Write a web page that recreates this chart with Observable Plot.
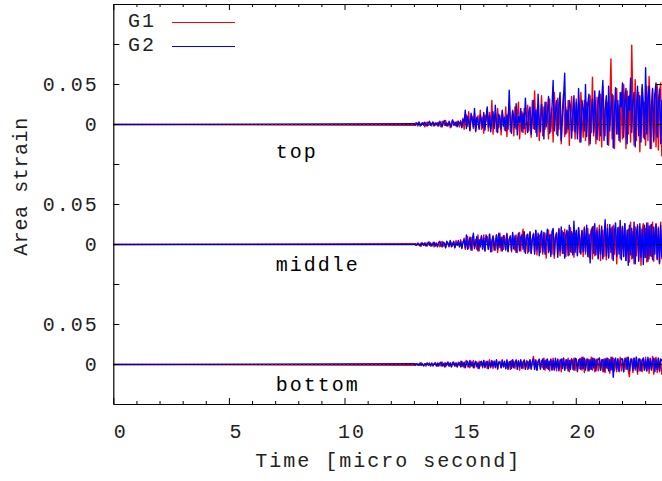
<!DOCTYPE html>
<html>
<head>
<meta charset="utf-8">
<script src="https://cdn.jsdelivr.net/npm/d3@7"></script>
<script src="https://cdn.jsdelivr.net/npm/@observablehq/plot@0.6"></script>
<style>
  html, body { margin: 0; padding: 0; background: #fff; }
  #wrap { position: relative; width: 662px; height: 481px; overflow: hidden; }
  #legend { position: absolute; left: 0; top: 0; font-family: "Liberation Mono", monospace; font-size: 20px; letter-spacing: 2px; color: #222; }
  .row { position: absolute; white-space: nowrap; }
  .swatch { position: absolute; height: 1px; }
</style>
</head>
<body>
<div id="wrap"><div id="legend"></div></div>
<script>
// ---- data: strain values in units of 1e-3, one inner list per micro second ----
const seriesNames = ["G1", "G2"];
const seriesColors = ["#ff0000", "#0000ff"];
const traceNames = ["top", "middle", "bottom"];
const traceOffsets = [0.3, 0.15, 0];
const traceLabelX = [7, 7, 7];
const traceLabelY = [0.266, 0.125, -0.025];
const t0 = 13.0;     // first sampled time (micro second); signal is flat (0) before
const dt = 0.05;     // sampling step inside each micro-second block

const topG1 = [
  [-1,2,1,-2,3,0,-1,2,2,-3,1,3,-1,0,2,-2,3,1,-1,2],
  [-2,3,1,-3,4,2,-1,5,-2,1,3,-4,2,6,-1,3,-2,4,0,-3],
  [5,-3,8,-6,4,12,-2,16,-8,6,10,-5,14,-9,3,11,-4,18,-6,9],
  [-11,12,4,20,-8,15,-6,30,-12,8,14,-9,20,-4,11,-13,16,5,-7,22],
  [-15,10,26,-9,5,18,-14,22,-6,12,28,-18,8,16,-10,20,-12,6,24,-8],
  [14,-16,30,-5,42,-10,18,25,-20,8,36,-14,22,-6,28,12,-18,32,-9,20],
  [-22,40,15,-12,33,-6,26,-24,18,38,-15,22,-10,30,-26,14,35,-8,24,-18],
  [32,-12,26,-22,40,10,-16,30,-20,28,18,-26,36,-10,59,-14,22,-24,34,12],
  [-20,38,-28,48,16,-14,30,26,-26,20,82,-18,36,-30,28,45,-12,24,-22,40],
  [-18,50,24,-30,42,-12,36,-22,99,18,-26,56,-20,30,40,-34,22,46,-16,28],
  [-26,48,-20,60,24,-30,44,-22,38,-28,50,-32,36,52,-39]];
const topG2 = [
  [1,-1,2,0,3,-2,1,2,-1,3,0,-2,2,4,-1,1,3,-2,2,0],
  [2,-2,4,1,-3,3,5,-1,2,-2,4,0,-3,5,2,-1,3,-3,4,1],
  [3,-4,6,2,18,-5,10,4,-7,14,6,-3,20,-8,9,3,-6,12,5,-4],
  [15,-7,8,22,-3,11,-9,6,16,-5,24,2,-10,13,7,-6,18,-2,9,-8],
  [12,-6,43,5,-11,17,8,-4,26,-13,10,3,20,-9,14,-5,33,6,-10,16],
  [22,-12,9,30,-6,18,-15,38,4,-9,25,12,-18,28,-3,15,35,-11,8,21],
  [55,-8,17,30,-14,24,40,-20,10,33,64,-12,18,-6,30,22,-17,14,36,-9],
  [28,-18,45,12,-22,30,20,-8,50,-15,26,38,-24,16,32,-10,42,8,-19,27],
  [42,-14,30,55,-20,18,36,-25,48,-8,24,38,-29,15,46,-12,30,-20,40,22],
  [52,-16,28,45,-24,35,18,58,-10,30,40,-28,22,48,-14,36,-22,50,26,-18],
  [71,-12,34,48,-30,22,45,-20,38,52,-16,28,44,-24,30]];
const middleG1 = [
  [1,-1,0,2,-1,1,-2,2,0,-1,2,-2,1,3,-2,0,2,-3,1,2],
  [-2,3,-3,1,4,-2,2,-4,3,0,-3,4,2,-2,3,-4,5,-1,2,-3],
  [6,-4,3,8,-6,2,10,-5,4,9,-7,11,-3,6,-6,12,-8,4,10,-5],
  [12,-8,5,10,-6,13,-3,-9,11,4,-7,12,-10,6,14,-8,9,-6,11,-5],
  [14,-8,7,11,-9,13,-5,-7,12,-10,6,15,-8,10,19,-9,4,12,-11,8],
  [15,-11,6,14,-9,17,-13,8,12,-10,16,-12,5,14,-17,10,18,-8,13,-12],
  [18,-17,9,15,-12,20,-14,6,17,-11,19,-15,10,16,-13,21,-10,14,-16,12],
  [16,-13,21,-10,8,18,-15,22,-12,14,20,-16,10,19,-18,23,-14,12,21,-17],
  [24,-20,9,18,-15,22,-19,25,-16,13,20,-18,24,-12,21,-24,17,22,-17,14],
  [23,-15,26,-20,12,19,-22,28,-18,16,-24,22,-14,25,-19,21,-26,18,26,-16],
  [20,-22,27,-18,24,-15,28,-21,16,25,-19,22,-24,28,-18]];
const middleG2 = [
  [0,1,-1,1,0,-2,2,1,-1,2,-2,0,3,-1,2,-2,1,3,-2,1],
  [-3,2,4,-1,-3,3,1,-4,4,2,-2,5,-3,1,4,-4,2,-1,5,-3],
  [4,-5,2,6,-4,12,-6,3,9,-7,5,14,-5,2,10,-8,6,-3,11,-6],
  [8,-8,12,3,-6,13,-9,5,10,-7,2,12,-6,14,-4,9,-8,11,3,-7],
  [13,-9,6,10,-7,15,-5,11,-10,4,14,-8,9,12,-6,16,-11,7,13,-9],
  [16,-11,8,13,-12,18,-6,14,-14,10,17,-9,15,-12,5,19,-10,12,-15,16],
  [20,-13,9,14,-16,19,-8,22,-11,15,-17,12,18,-14,24,-9,16,-13,29,-10],
  [18,-14,21,6,-12,17,-9,20,-9,24,-15,13,-23,16,22,-11,26,-13,17,-18],
  [19,-12,23,-18,8,31,-14,20,-17,25,-10,22,-20,16,27,-15,21,-12,30,-19],
  [22,-15,26,-20,18,-26,24,-13,20,-17,28,-24,15,23,-21,26,-16,19,-25,24],
  [-16,27,-21,23,-14,25,-19,22,-12,26,-18,20,-23,24,-15]];
const bottomG1 = [
  [-1,1,0,-1,1,-1,2,0,-1,1,-2,1,0,2,-1,1,-2,1,2,-1],
  [-2,1,2,-2,3,-1,2,-3,1,3,-2,2,-3,3,1,-2,2,-3,3,-1],
  [4,-3,2,-4,3,5,-3,1,-4,4,-2,5,-4,2,3,-5,4,-2,3,-4],
  [5,-3,4,-5,2,6,-4,3,-5,4,-2,5,-6,3,4,-4,6,-3,2,-5],
  [6,-4,3,-6,5,-3,4,-5,6,-2,5,-7,4,3,-5,6,-4,5,-6,3],
  [5,-6,4,10,-5,6,-7,3,7,-6,5,-4,8,-7,6,-5,4,-8,7,-6],
  [8,-6,5,-8,7,-4,6,-9,5,8,-7,6,-5,8,-9,4,7,-6,8,-7],
  [7,-9,6,-5,8,-7,9,-10,5,7,-8,6,-6,9,-7,8,-9,5,7,-8],
  [8,-7,6,-9,7,-10,8,-5,7,-11,9,-6,8,-8,6,-9,7,-7,9,-8],
  [7,-9,8,-6,9,-8,-15,7,6,-10,8,-7,9,-12,7,-8,6,-9,8,-7],
  [9,-8,7,-11,8,-6,10,-12,7,9,-10,8,-9,6,-12]];
const bottomG2 = [
  [1,-1,1,0,-1,2,-1,1,-2,1,0,2,-1,1,-2,2,-1,0,2,-2],
  [2,-2,1,3,-2,1,-3,2,-1,3,-2,2,-3,1,3,-2,2,-3,1,2],
  [-3,4,-2,3,-4,2,4,-3,5,-2,3,-4,1,4,-3,2,-5,3,4,-3],
  [5,-4,2,4,-5,3,-3,5,-2,4,-4,6,-5,3,2,-4,5,-3,4,-5],
  [5,-6,3,4,-5,6,-4,2,5,-6,4,-3,6,-5,3,5,-6,2,4,-5],
  [6,-5,3,7,-6,5,-7,4,6,-5,2,7,-6,5,-4,7,-6,3,6,-7],
  [5,-7,8,-4,6,-8,3,7,-5,8,-7,4,6,-8,5,-6,7,3,-7,8],
  [6,-8,4,7,-6,9,-5,8,-7,3,7,-8,6,-6,8,-4,7,-8,5,6],
  [8,-7,5,6,-9,7,-4,8,-8,6,-7,9,-16,5,8,-6,7,-9,4,7],
  [7,-9,5,8,-6,9,-8,4,7,-7,8,-5,9,-9,6,7,-8,5,8,-7],
  [6,-8,9,-5,7,-7,4,8,-9,6,-6,8,-8,7,5]];

const traceData = [[topG1, topG2], [middleG1, middleG2], [bottomG1, bottomG2]];

const xMajorTicks = [0, 5, 10, 15, 20];
const xMinorTicks = [1,2,3,4,6,7,8,9,11,12,13,14,16,17,18,19,21,22,23];
const yTickValues = [0, 0.05, 0.1, 0.15, 0.2, 0.25, 0.3, 0.35, 0.4];
const yTickLabels = ["0", "0.05", "", "0", "0.05", "", "0", "0.05", ""];
const xDomain = [0, 23.73];
const yDomain = [-0.05, 0.45];
const xLabel = "Time [micro second]";
const yLabel = "Area strain";

// ---- build rows ----
const rows = [];
traceData.forEach((pair, ti) => {
  pair.forEach((blocks, si) => {
    rows.push({trace: ti, series: si, t: 0, y: traceOffsets[ti]});
    blocks.forEach((vals, b) => {
      vals.forEach((v, j) => {
        rows.push({trace: ti, series: si, t: t0 + b + dt * j, y: traceOffsets[ti] + v / 1000});
      });
    });
  });
});

const W = 662, H = 481;
const mL = 113.3, mR = 0, mT = 4, mB = 77;
const frameW = W - mL - mR, frameH = H - mT - mB;
const font = "Liberation Mono, monospace";
const fs = 20;

const marks = [];
traceNames.forEach((tn, ti) => {
  seriesNames.forEach((sn, si) => {
    marks.push(Plot.line(rows.filter(d => d.trace === ti && d.series === si), {
      x: "t", y: "y", stroke: seriesColors[si], strokeWidth: 1.4
    }));
  });
});

const yTickFmt = new Map(yTickValues.map((v, i) => [v, yTickLabels[i]]));

const chart = Plot.plot({
  width: W, height: H,
  marginLeft: mL, marginRight: mR, marginTop: mT, marginBottom: mB,
  style: {fontFamily: font, fontSize: fs + "px", background: "#fff", overflow: "visible"},
  x: {domain: xDomain},
  y: {domain: yDomain},
  marks: [
    ...marks,
    Plot.ruleY(traceOffsets, {stroke: "#000", strokeWidth: 1, strokeDasharray: "1.5,2.5"}),
    // frame: left, top, bottom
    Plot.ruleX([xDomain[0]], {stroke: "#000", strokeWidth: 1.2}),
    Plot.ruleY([yDomain[0]], {stroke: "#000", strokeWidth: 1.2}),
    Plot.ruleY([yDomain[1]], {stroke: "#000", strokeWidth: 1.2}),
    // inward ticks
    Plot.ruleX(xMajorTicks, {stroke: "#000", insetTop: frameH - 6}),
    Plot.ruleX(xMinorTicks, {stroke: "#000", insetTop: frameH - 3}),
    Plot.ruleX(xMajorTicks, {stroke: "#000", insetBottom: frameH - 6}),
    Plot.ruleX(xMinorTicks, {stroke: "#000", insetBottom: frameH - 3}),
    Plot.ruleY(yTickValues, {stroke: "#000", insetRight: frameW - 6}),
    Plot.ruleY(yTickValues, {stroke: "#000", insetLeft: frameW - 6}),
    // tick labels
    Plot.axisX({ticks: xMajorTicks, tickSize: 0, tickPadding: 19, dx: 7, label: null,
      fontSize: fs, fill: "#222"}),
    Plot.axisY({ticks: yTickValues, tickSize: 0, tickPadding: 15, label: null,
      tickFormat: v => yTickFmt.get(v) ?? "", fontSize: fs, fill: "#222"}),
    // axis titles
    Plot.text([xLabel], {frameAnchor: "bottom", dy: 62, text: d => d, fontSize: fs, fill: "#222"}),
    Plot.text([yLabel], {frameAnchor: "left", textAnchor: "middle", dx: -93, dy: -18, rotate: -90,
      text: d => d, fontSize: fs, fill: "#222", className: "ylab"}),
    // trace labels
    Plot.text(traceNames, {x: (d, i) => traceLabelX[i], y: (d, i) => traceLabelY[i], text: d => d,
      textAnchor: "start", fontSize: fs, fill: "#000"})
  ]
});
chart.querySelectorAll("text").forEach(t => t.setAttribute("letter-spacing", "2"));
chart.querySelectorAll(".ylab text").forEach(t => t.setAttribute("letter-spacing", "0.6"));
document.getElementById("wrap").prepend(chart);

// legend overlay (inside the plot, top-left)
const legend = document.getElementById("legend");
seriesNames.forEach((name, i) => {
  const r = document.createElement("div");
  r.className = "row";
  r.style.left = "128px";
  r.style.top = (10 + 24 * i) + "px";
  r.textContent = name;
  legend.appendChild(r);
  const s = document.createElement("div");
  s.className = "swatch";
  s.style.left = "172px";
  s.style.width = "63px";
  s.style.top = (22 + 24 * i) + "px";
  s.style.background = seriesColors[i];
  legend.appendChild(s);
});
</script>
</body>
</html>
